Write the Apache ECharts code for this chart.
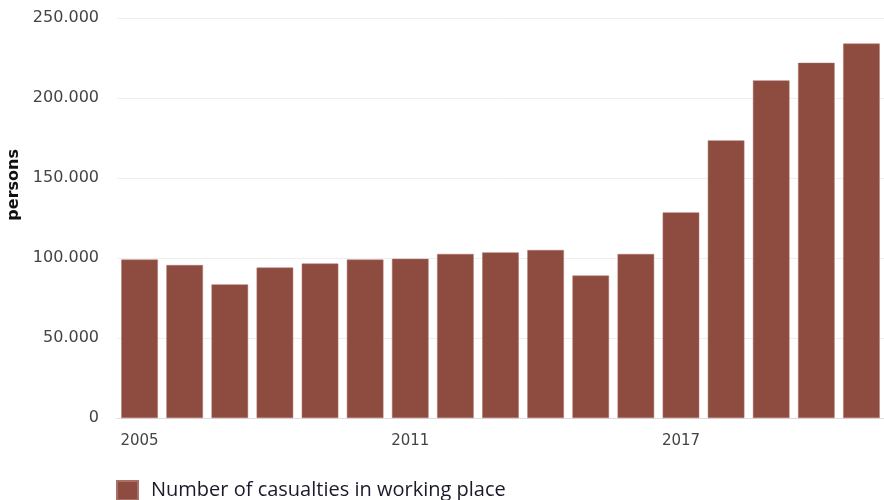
<!DOCTYPE html>
<html>
<head>
<meta charset="utf-8">
<script src="https://cdn.jsdelivr.net/npm/echarts@6/dist/echarts.min.js"></script>
<style>html,body{margin:0;padding:0;background:#fff;}#c{width:884px;height:500px;}</style>
</head>
<body>
<div id="c"></div>
<script>
const years = ['2005','2006','2007','2008','2009','2010','2011','2012','2013','2014','2015','2016','2017','2018','2019','2020','2021'];
const casualties = [99000, 95600, 83500, 94000, 96500, 99000, 99500, 102500, 103500, 105000, 89000, 102500, 128500, 173500, 211000, 222000, 234000];
const seriesName = 'Number of casualties in working place';
const yTicks = [0, 50000, 100000, 150000, 200000, 250000];

const chart = echarts.init(document.getElementById('c'));
chart.setOption({
  animation: false,
  grid: {left: 117, top: 18, width: 772, height: 400, containLabel: false},
  legend: {
    left: 111, top: 475, itemWidth: 21, itemHeight: 19, icon: 'rect', itemGap: 10,
    textStyle: {fontFamily: 'Open Sans', fontSize: 20, color: '#1a1a2a', padding: [0,0,0,8]},
    data: [seriesName]
  },
  graphic: [{
    type: 'text', left: 6, top: 149, rotation: Math.PI/2,
    style: {text: 'persons', fontFamily: 'DejaVu Sans', fontWeight: 'bold', fontSize: 16, fill: '#111'}
  }],
  xAxis: {
    type: 'category', data: years,
    axisTick: {show: false},
    axisLine: {lineStyle: {color: '#ddd'}},
    axisLabel: {interval: 5, color: '#444', fontFamily: 'DejaVu Sans', fontSize: 15, margin: 16}
  },
  yAxis: {
    type: 'value', min: 0, max: yTicks[yTicks.length-1], interval: 50000,
    axisLine: {show: false}, axisTick: {show: false},
    splitLine: {lineStyle: {color: '#eee'}},
    axisLabel: {
      color: '#444', fontFamily: 'DejaVu Sans', fontSize: 16, margin: 18,
      formatter: v => v === 0 ? '0' : String(v).replace(/\B(?=(\d{3})+(?!\d))/g, '.')
    }
  },
  series: [{
    name: seriesName, type: 'bar', data: casualties,
    barCategoryGap: '19%',
    itemStyle: {color: '#8e4c40', borderColor: '#a87068', borderWidth: 0.5}
  }]
});
</script>
</body>
</html>
